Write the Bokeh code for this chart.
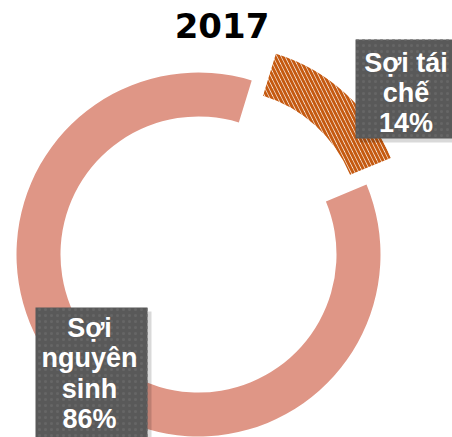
import math
from bokeh.plotting import figure
from bokeh.models import Range1d
from bokeh.core.properties import value
from bokeh.embed import file_html
from bokeh.resources import INLINE

# ---- data ----
title_text = "2017"
categories = ["Sợi tái chế", "Sợi nguyên sinh"]
shares = [14, 86]
label_lines = [["Sợi tái", "chế", "14%"], ["Sợi", "nguyên", "sinh", "86%"]]
slice_colors = ["#C55A11", "#DF9686"]

# ---- layout ----
W, H = 452, 437
CX, CY = 198, 254          # donut centre, page pixels
R_OUT, R_IN = 182, 138
START_DEG = 17             # first slice starts 17 deg clockwise from 12 o'clock
EXPLODE = 36

p = figure(width=W, height=H, output_backend="svg", toolbar_location=None,
           x_axis_type=None, y_axis_type=None, min_border=0,
           x_range=Range1d(0 - CX, W - CX), y_range=Range1d(CY - H, CY))
p.outline_line_color = None
p.grid.visible = False
p.background_fill_color = "white"
p.border_fill_color = "white"

total = sum(shares)
cum = START_DEG
for i, (cat, v) in enumerate(zip(categories, shares)):
    a0 = cum
    a1 = cum + v / total * 360.0
    cum = a1
    mid = math.radians((a0 + a1) / 2)
    if i == 0:
        ox, oy = EXPLODE * math.sin(mid), EXPLODE * math.cos(mid)
        p.annular_wedge(x=ox, y=oy, inner_radius=R_IN, outer_radius=R_OUT,
                        start_angle=math.pi / 2 - math.radians(a1),
                        end_angle=math.pi / 2 - math.radians(a0),
                        fill_color=None, line_color=None,
                        hatch_pattern="left_diagonal_line", hatch_color=slice_colors[i],
                        hatch_scale=8, hatch_weight=3)
    else:
        p.annular_wedge(x=0, y=0, inner_radius=R_IN, outer_radius=R_OUT,
                        start_angle=math.pi / 2 - math.radians(a1),
                        end_angle=math.pi / 2 - math.radians(a0),
                        fill_color=slice_colors[i], line_color=None)

# label boxes (left, right, top, bottom in centred coords)
boxes = [(157, 262, 215, 116), (-163, -51, -53, -200)]
text_x = [207.5, -109]
baselines = [[192, 162, 132], [-73, -103, -134, -164]]
for (l, r, t, b), tx, lines, bls in zip(boxes, text_x, label_lines, baselines):
    p.quad(left=l + 4, right=r + 4, top=t - 4, bottom=b - 4,
           fill_color="black", fill_alpha=0.15, line_color=None)
    p.quad(left=l, right=r, top=t, bottom=b, fill_color="#595959",
           line_color=None, hatch_pattern="dot", hatch_color="#666666",
           hatch_scale=6, hatch_weight=1)
    p.text(x=[tx] * len(lines), y=bls, text=lines, text_color="white",
           text_font=value("Liberation Sans"), text_font_style="bold",
           text_font_size="27px", text_align="center",
           text_baseline="alphabetic")

p.text(x=[23.5], y=[229], text=[title_text], text_color="black",
       text_font=value("DejaVu Sans"), text_font_style="bold",
       text_font_size="34px", text_align="center", text_baseline="alphabetic")

open("out.html", "w").write(file_html(p, INLINE))
